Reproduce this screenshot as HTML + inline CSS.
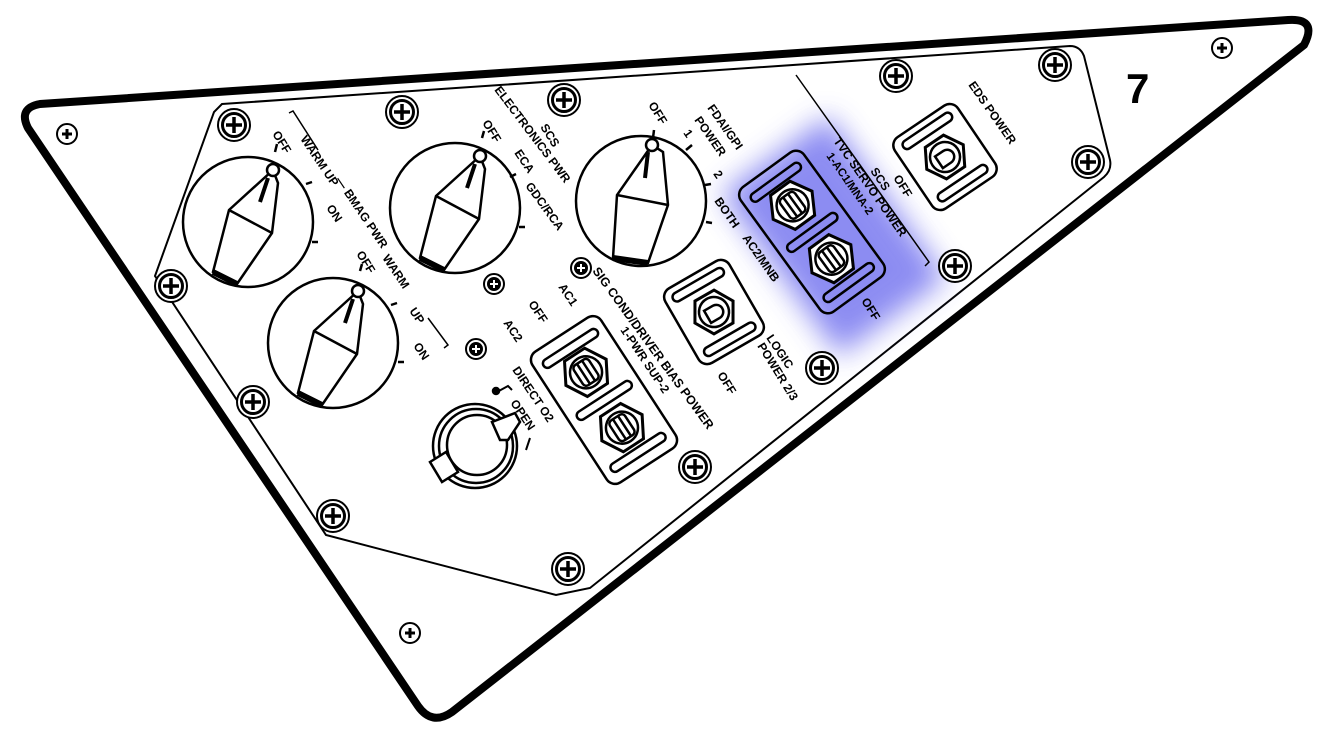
<!DOCTYPE html>
<html><head><meta charset="utf-8"><style>
html,body{margin:0;padding:0;background:#fff;}
svg{display:block;}
text{font-family:"Liberation Sans",sans-serif;font-weight:bold;fill:#000;}
</style></head><body>
<svg width="1318" height="738" viewBox="0 0 1318 738" xmlns="http://www.w3.org/2000/svg">
<defs>
<filter id="bl" x="-50%" y="-50%" width="200%" height="200%"><feGaussianBlur stdDeviation="14"/></filter>
<g id="scr"><circle r="16" fill="#fff" stroke="#000" stroke-width="2"/><circle r="11.5" fill="none" stroke="#000" stroke-width="3"/><path d="M-8 0H8M0 -8V8" stroke="#000" stroke-width="3.5"/></g>
<g id="scs"><circle r="10" fill="#fff" stroke="#000" stroke-width="2"/><path d="M-5 0H5M0 -5V5" stroke="#000" stroke-width="3"/></g>
<g id="scf"><circle r="10" fill="#fff" stroke="#000" stroke-width="2"/><circle r="7" fill="#000"/><path d="M-4 0H4M0 -4V4" stroke="#fff" stroke-width="2"/></g>
<g id="knob" fill="none" stroke="#000" stroke-width="2.5">
<path d="M25 -52 L-19 -12 L-35 50 L-11 62 L24 11 L30 -39 Z" fill="#fff"/>
<path d="M-19 -12 L24 11"/><path d="M-35 50 L-11 62" stroke-width="6"/>
<path d="M20 -44 L12 -20" stroke-width="4"/>
<circle cx="25" cy="-52" r="6" fill="#fff"/>
</g>
<g id="tgl"><polygon points="-24,0 -12,-21 12,-21 24,0 12,21 -12,21" fill="#fff" stroke="#000" stroke-width="3"/><circle r="16" fill="none" stroke="#000" stroke-width="2.5"/><rect x="-9" y="-12" width="18" height="24" rx="4" fill="none" stroke="#000" stroke-width="2.5"/><path d="M-3 -12V12M3 -12V12" stroke="#000" stroke-width="2.5"/></g>
<g id="tgl2"><polygon points="-22,0 -11,-19 11,-19 22,0 11,19 -11,19" fill="#fff" stroke="#000" stroke-width="3"/><circle r="15" fill="none" stroke="#000" stroke-width="2.5"/><path d="M-8 -6 h10 a7 7 0 0 1 0 14 h-10 z" fill="#fff" stroke="#000" stroke-width="2.5"/></g>
</defs>

<path d="M40 104 L1288 20 Q1318 18 1304 45 L452 712 Q432 726 418 706 L28 128 Q18 108 40 104 Z" fill="#fff" stroke="#000" stroke-width="8" stroke-linejoin="round"/>
<path d="M222 104 L1070 46 Q1080 46 1084 56 L1110 160 Q1112 170 1104 177 L590 588 L556 595 L326 535 L155 276 L214 112 Z" fill="none" stroke="#000" stroke-width="2"/>

<g filter="url(#bl)" opacity="0.85"><rect x="-66" y="-100" width="132" height="200" transform="translate(834,236) rotate(-36)" fill="#7878f0"/></g>

<use href="#scs" x="67" y="134"/>
<use href="#scs" x="1222" y="48"/>
<use href="#scs" x="410" y="633"/>
<use href="#scr" x="234" y="125"/>
<use href="#scr" x="402" y="112"/>
<use href="#scr" x="564" y="100"/>
<use href="#scr" x="896" y="76"/>
<use href="#scr" x="1055" y="65"/>
<use href="#scr" x="1088" y="162"/>
<use href="#scr" x="955" y="266"/>
<use href="#scr" x="822" y="368"/>
<use href="#scr" x="695" y="467"/>
<use href="#scr" x="568" y="569"/>
<use href="#scr" x="333" y="516"/>
<use href="#scr" x="253" y="402"/>
<use href="#scr" x="171" y="286"/>
<use href="#scf" x="494" y="284"/>
<use href="#scf" x="476" y="349"/>
<use href="#scf" x="581" y="268"/>

<g fill="#fff" stroke="#000" stroke-width="2.5">
<circle cx="248" cy="222" r="65"/><circle cx="333" cy="343" r="65"/><circle cx="455" cy="208" r="65"/><circle cx="641" cy="201" r="65"/>
</g>
<use href="#knob" x="248" y="222"/>
<use href="#knob" x="333" y="343"/>
<use href="#knob" x="455" y="208"/>
<g fill="none" stroke="#000" stroke-width="2.5">
<path d="M652 145 L617 195 L613 258 L648 263 L668 205 L663 152 Z" fill="#fff"/>
<path d="M617 195 L668 205"/><path d="M613 258 L648 263" stroke-width="6"/>
<path d="M648 152 L645 178" stroke-width="4"/><circle cx="652" cy="145" r="6" fill="#fff"/>
<path d="M275 152 l2 -8 M306 184 l6 -2 M312 242 l6 0 M360 271 l2 -7 M391 305 l6 -2 M398 362 l6 0 M482 138 l2 -7 M510 177 l6 -3 M519 227 l6 0 M653 138 l1 -8 M686 150 l6 -5 M705 185 l6 -1 M706 222 l6 1"/>
<path d="M289 113 L293 111 L318 150" stroke-width="1.5"/>
<path d="M428 318 L448 345 L444 348" stroke-width="1.5"/>
<path d="M796 75 L929 262 L925 266" stroke-width="1.5"/>
</g>

<g transform="translate(604,400) rotate(-33)" fill="none" stroke="#000" stroke-width="2.5">
<rect x="-41" y="-78" width="82" height="156" rx="10" fill="#fff"/>
<rect x="-32" y="-66" width="64" height="9" rx="4.5"/><rect x="-32" y="-4" width="64" height="9" rx="4.5"/><rect x="-32" y="58" width="64" height="9" rx="4.5"/>
<use href="#tgl" x="0" y="-33"/><use href="#tgl" x="0" y="33"/>
</g>
<g transform="translate(812,232) rotate(-36)" fill="none" stroke="#000" stroke-width="2.5">
<rect x="-39" y="-77" width="78" height="154" rx="10"/>
<rect x="-30" y="-66" width="60" height="9" rx="4.5"/><rect x="-30" y="-4" width="60" height="9" rx="4.5"/><rect x="-30" y="58" width="60" height="9" rx="4.5"/>
<use href="#tgl" x="0" y="-33"/><use href="#tgl" x="0" y="33"/>
</g>
<g transform="translate(714,312) rotate(-30)" fill="none" stroke="#000" stroke-width="2.5">
<rect x="-37" y="-43" width="74" height="86" rx="10" fill="#fff"/>
<rect x="-29" y="-36" width="58" height="9" rx="4.5"/><rect x="-29" y="27" width="58" height="9" rx="4.5"/>
<use href="#tgl2" x="0" y="0"/>
</g>
<g transform="translate(945,157) rotate(-34)" fill="none" stroke="#000" stroke-width="2.5">
<rect x="-38" y="-43" width="76" height="86" rx="10" fill="#fff"/>
<rect x="-29" y="-36" width="58" height="9" rx="4.5"/><rect x="-29" y="27" width="58" height="9" rx="4.5"/>
<use href="#tgl2" x="0" y="0"/>
</g>

<g fill="none" stroke="#000" stroke-width="2.5">
<circle cx="475" cy="446" r="42" fill="#fff"/><circle cx="476" cy="446" r="37"/><circle cx="477" cy="445" r="30" fill="#fff"/>
<path d="M492 422 L515 413 L520 422 L508 440 L500 440 Z" fill="#fff"/>
<path d="M430 462 L446 452 L458 472 L442 482 Z" fill="#fff"/>
<path d="M497 392 L508 386 L512 390" stroke-width="2"/><circle cx="496" cy="391" r="3" fill="#000"/>
<path d="M530 438 L526 450" stroke-width="2"/>
</g>

<text x="1126" y="103" font-size="42">7</text>

<g font-size="12">
<text transform="translate(272,134) rotate(58)">OFF</text>
<text transform="translate(300,139) rotate(56)">WARM UP</text>
<text transform="translate(326,208) rotate(56)">ON</text>
<text transform="translate(335,180) rotate(56)">— BMAG PWR</text>
<text transform="translate(356,254) rotate(58)">OFF</text>
<text transform="translate(382,258) rotate(56)">WARM</text>
<text transform="translate(409,311) rotate(56)">UP</text>
<text transform="translate(413,346) rotate(56)">ON</text>
<text transform="translate(482,123) rotate(58)">OFF</text>
<text transform="translate(514,153) rotate(56)">ECA</text>
<text transform="translate(525,186) rotate(54)">GDC/RCA</text>
<text transform="translate(540,127) rotate(58)">SCS</text>
<text transform="translate(494,90) rotate(53)" font-size="12">ELECTRONICS PWR</text>
<text transform="translate(648,105) rotate(58)">OFF</text>
<text transform="translate(707,108) rotate(55)">FDAI/GPI</text>
<text transform="translate(694,120) rotate(55)">POWER</text>
<text transform="translate(683,133) rotate(55)">1</text>
<text transform="translate(713,174) rotate(55)">2</text>
<text transform="translate(714,201) rotate(55)">BOTH</text>
<text transform="translate(742,238) rotate(55)">AC2/MNB</text>
<text transform="translate(592,271) rotate(54)" font-size="12.5">SIG COND/DRIVER BIAS POWER</text>
<text transform="translate(620,330) rotate(56)">1-PWR SUP-2</text>
<text transform="translate(558,287) rotate(56)">AC1</text>
<text transform="translate(528,304) rotate(56)">OFF</text>
<text transform="translate(503,323) rotate(56)">AC2</text>
<text transform="translate(512,370) rotate(56)">DIRECT O2</text>
<text transform="translate(510,403) rotate(56)">OPEN</text>
<text transform="translate(766,338) rotate(56)">LOGIC</text>
<text transform="translate(757,346) rotate(58)">POWER 2/3</text>
<text transform="translate(717,375) rotate(58)">OFF</text>
<text transform="translate(870,171) rotate(56)">SCS</text>
<text transform="translate(833,141) rotate(55)">TVC SERVO POWER</text>
<text transform="translate(826,156) rotate(55)" font-size="11.5">1-AC1/MNA-2</text>
<text transform="translate(861,301) rotate(58)">OFF</text>
<text transform="translate(968,85) rotate(55)">EDS POWER</text>
<text transform="translate(893,178) rotate(58)">OFF</text>
</g>
</svg>
</body></html>
